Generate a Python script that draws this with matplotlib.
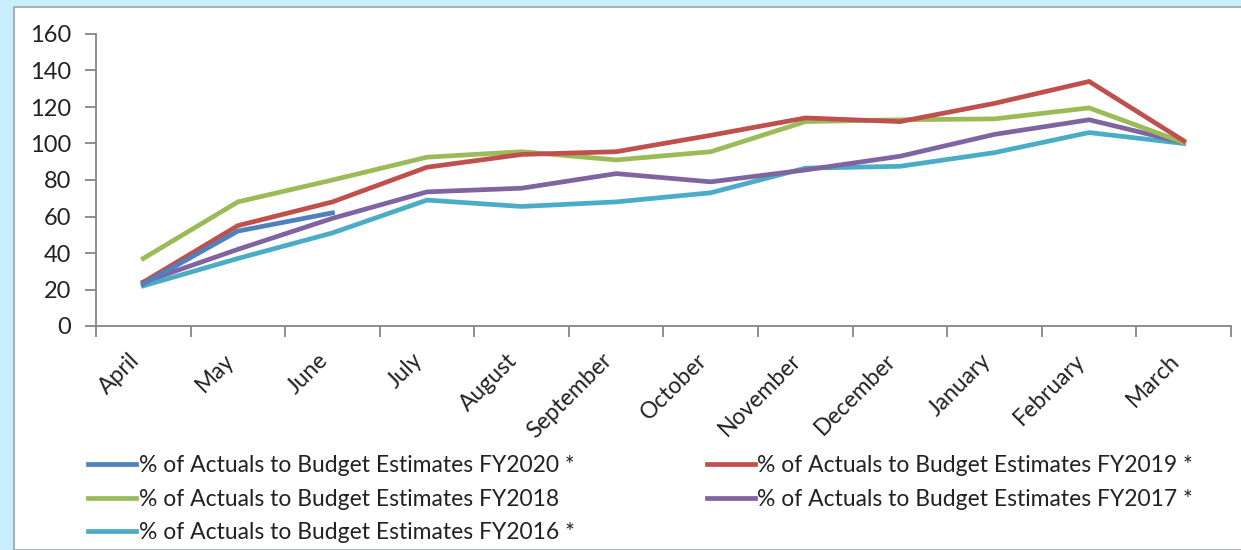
import matplotlib
matplotlib.use("Agg")
import matplotlib.pyplot as plt
from matplotlib.patches import Rectangle
import numpy as np

months = ["April", "May", "June", "July", "August", "September", "October",
          "November", "December", "January", "February", "March"]

fy2020 = [23, 52, 62]
fy2019 = [24, 55, 68, 87, 94, 95.5, 104.5, 114, 112, 122, 134, 101.5]
fy2018 = [37, 68, 80, 92.5, 95.5, 91, 95.5, 112, 113, 113.5, 119.5, 100.5]
fy2017 = [24, 42, 59, 73.5, 75.5, 83.5, 79, 85.5, 93, 105, 113, 100.5]
fy2016 = [22, 37, 51, 69, 65.5, 68, 73, 86.5, 87.5, 95, 106, 100]

labels = ["% of Actuals to Budget Estimates FY2020 *",
          "% of Actuals to Budget Estimates FY2019 *",
          "% of Actuals to Budget Estimates FY2018",
          "% of Actuals to Budget Estimates FY2017 *",
          "% of Actuals to Budget Estimates FY2016 *"]
colors = ["#4F81BD", "#C0504D", "#9BBB59", "#8064A2", "#4BACC6"]
yticks = [0, 20, 40, 60, 80, 100, 120, 140, 160]

plt.rcParams['font.family'] = ['Lato', 'DejaVu Sans']

W, H = 1241, 550
fig = plt.figure(figsize=(W / 100, H / 100), dpi=100, facecolor="#C8EEFC")
panel = Rectangle((14 / W, 0), 1.1, 1 - 7 / H, transform=fig.transFigure,
                  facecolor="white", edgecolor="#9AA6AE", linewidth=1.2, zorder=-10)
fig.patches.append(panel)

ax = fig.add_axes([96 / W, 1 - 326 / H, (1231 - 96) / W, (326 - 34) / H])
ax.set_facecolor("none")
ax.set_zorder(2)

series = [fy2020, fy2019, fy2018, fy2017, fy2016]
handles = {}
for idx in [4, 3, 2, 1, 0]:
    vals = series[idx]
    x = np.arange(len(vals))
    ln, = ax.plot(x, vals, color=colors[idx], lw=3.4, solid_joinstyle="miter",
                  label=labels[idx], zorder=3 + (4 - idx))
    handles[idx] = ln

ax.set_xlim(-0.5, len(months) - 0.5)
ax.set_ylim(0, 160)
ax.set_yticks(yticks)
ax.set_yticklabels([str(v) for v in yticks], fontsize=17, color="#222222")
ax.set_xticks(np.arange(len(months)))
ax.set_xticklabels(months, rotation=45, ha="right", va="top", fontsize=16.5,
                   color="#222222", rotation_mode="default")
ax.set_xticks(np.arange(-0.5, len(months), 1.0), minor=True)
ax.tick_params(axis="x", which="major", length=0, pad=17)
ax.tick_params(axis="x", which="minor", length=8, width=1.3, color="#868686")
ax.tick_params(axis="y", length=8, width=1.3, color="#868686", pad=10)
for s in ["top", "right"]:
    ax.spines[s].set_visible(False)
for s in ["left", "bottom"]:
    ax.spines[s].set_color("#868686")
    ax.spines[s].set_linewidth(1.3)

order = [0, 2, 4, 1, 3]
leg = fig.legend([handles[i] for i in order], [labels[i] for i in order],
                 ncol=2, loc="upper left", bbox_to_anchor=(88 / W, 1 - 455 / H),
                 frameon=False, fontsize=16.5, handlelength=2.1, handletextpad=0.12,
                 columnspacing=5.75, labelspacing=0.55, borderpad=0, borderaxespad=0)
for t in leg.get_texts():
    t.set_color("#222222")

fig.savefig("out.png", dpi=100, facecolor=fig.get_facecolor())
